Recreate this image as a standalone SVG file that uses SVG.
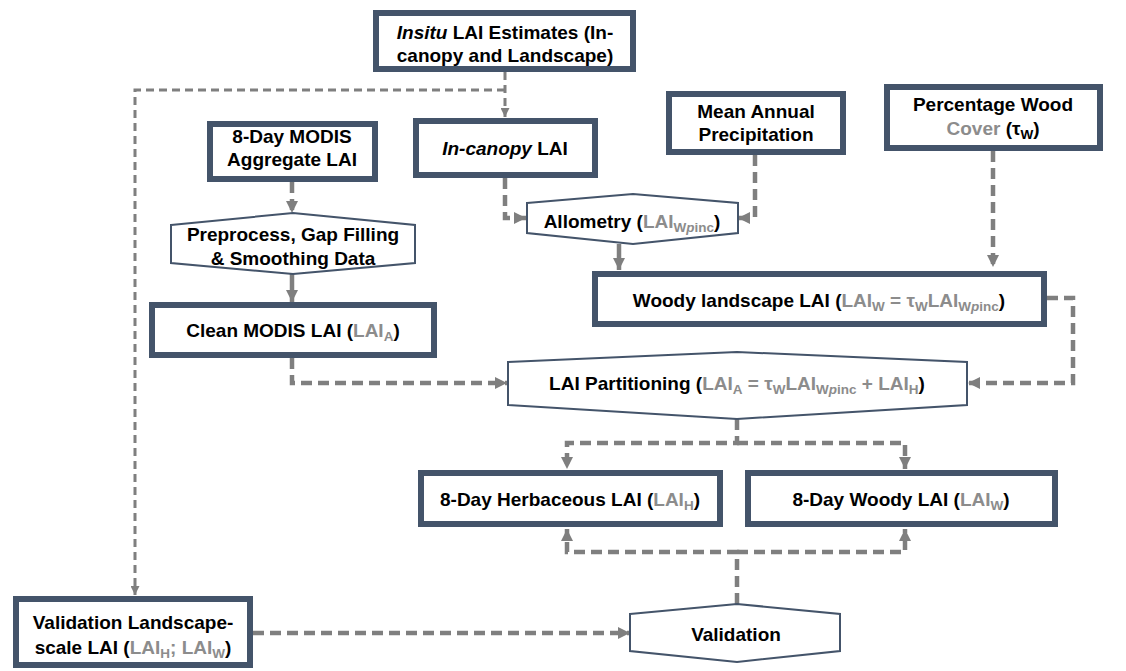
<svg xmlns="http://www.w3.org/2000/svg" width="1126" height="671" viewBox="0 0 1126 671">
<style>
.box{fill:#fff;stroke:#44546a;stroke-width:6}
.hex{fill:#fff;stroke:#44546a;stroke-width:2}
.t{font-family:"Liberation Sans",Arial,sans-serif;font-weight:bold;font-size:19px;fill:#000;text-anchor:middle}
.g{fill:#8c8c8c}
.i{font-style:italic}
.s{font-size:13.5px}
.c{fill:none;stroke:#7f7f7f;stroke-width:4.5}
.d{stroke-dasharray:11 6}
.thin{fill:none;stroke:#7f7f7f;stroke-width:3;stroke-dasharray:8 5}
</style>
<defs>
<marker id="a" viewBox="0 0 10 10" refX="10" refY="5" markerWidth="12" markerHeight="12" markerUnits="userSpaceOnUse" orient="auto"><path d="M0,0L10,5L0,10z" fill="#7f7f7f"/></marker>
<marker id="as" viewBox="0 0 10 10" refX="10" refY="5" markerWidth="9" markerHeight="9" markerUnits="userSpaceOnUse" orient="auto"><path d="M0,0L10,5L0,10z" fill="#7f7f7f"/></marker>
</defs>
<g id="connectors">
<path class="thin" d="M505,72V117" marker-end="url(#as)"/>
<path class="thin" d="M505,90H135V595" marker-end="url(#as)"/>
<path class="c d" d="M292,182V213" marker-end="url(#a)"/>
<path class="c" d="M292,274V302" marker-end="url(#a)"/>
<path class="c d" d="M292,358V383H507" marker-end="url(#a)"/>
<path class="c d" d="M505,178V218H526" marker-end="url(#a)"/>
<path class="c d" d="M755,155V218H738" marker-end="url(#a)"/>
<path class="c" d="M619,244V270" marker-end="url(#a)"/>
<path class="c d" d="M993,151V267" marker-end="url(#a)"/>
<path class="c d" d="M1047,298H1073V383H968" marker-end="url(#a)"/>
<path class="c d" d="M737,419V443H567V469" marker-end="url(#a)"/>
<path class="c d" d="M737,443H905V469" marker-end="url(#a)"/>
<path class="c d" d="M737,604V552H567V529" marker-end="url(#a)"/>
<path class="c d" d="M737,552H905V529" marker-end="url(#a)"/>
<path class="c d" d="M253,633H630" marker-end="url(#a)"/>
</g>
<g id="insitu">
<rect class="box" x="376" y="13" width="257" height="56"/>
<text class="t" x="505" y="39"><tspan class="i">Insitu</tspan> LAI Estimates (In-</text>
<text class="t" x="505" y="62">canopy and Landscape)</text>
</g>
<g id="modis">
<rect class="box" x="210" y="124" width="165" height="55"/>
<text class="t" x="292" y="143">8-Day MODIS</text>
<text class="t" x="292" y="166">Aggregate LAI</text>
</g>
<g id="incanopy">
<rect class="box" x="416" y="121" width="179" height="54"/>
<text class="t" x="505" y="155"><tspan class="i">In-canopy</tspan> LAI</text>
</g>
<g id="precip">
<rect class="box" x="669" y="94" width="174" height="58"/>
<text class="t" x="756" y="118">Mean Annual</text>
<text class="t" x="756" y="141">Precipitation</text>
</g>
<g id="woodcover">
<rect class="box" x="887" y="87" width="213" height="61"/>
<text class="t" x="993" y="111">Percentage Wood</text>
<text class="t" x="993" y="135"><tspan class="g">Cover </tspan>(τ<tspan class="s" dy="4">W</tspan><tspan dy="-4">)</tspan></text>
</g>
<g id="preprocess">
<polygon class="hex" points="171,225 293,213 415,225 415,263 293,274 171,263"/>
<text class="t" x="293" y="241">Preprocess, Gap Filling</text>
<text class="t" x="293" y="265">&amp; Smoothing Data</text>
</g>
<g id="allometry">
<polygon class="hex" points="527,203 633,194 738,203 738,233 633,244 527,233"/>
<text class="t" x="632" y="228">Allometry (<tspan class="g">LAI<tspan class="s" dy="4">W<tspan class="i">p</tspan>inc</tspan></tspan><tspan dy="-4">)</tspan></text>
</g>
<g id="clean">
<rect class="box" x="152" y="305" width="282" height="50"/>
<text class="t" x="293" y="337">Clean MODIS LAI (<tspan class="g">LAI<tspan class="s" dy="4">A</tspan></tspan><tspan dy="-4">)</tspan></text>
</g>
<g id="woodylandscape">
<rect class="box" x="595" y="274" width="449" height="50"/>
<text class="t" x="819" y="307">Woody landscape LAI (<tspan class="g">LAI<tspan class="s" dy="4">W</tspan><tspan dy="-4"> = τ</tspan><tspan class="s" dy="4">W</tspan><tspan dy="-4">LAI</tspan><tspan class="s" dy="4">W<tspan class="i">p</tspan>inc</tspan></tspan><tspan dy="-4">)</tspan></text>
</g>
<g id="partitioning">
<polygon class="hex" points="508,362 737,352 967,362 967,405 737,419 508,405"/>
<text class="t" x="737" y="390">LAI Partitioning (<tspan class="g">LAI<tspan class="s" dy="4">A</tspan><tspan dy="-4"> = τ</tspan><tspan class="s" dy="4">W</tspan><tspan dy="-4">LAI</tspan><tspan class="s" dy="4">W<tspan class="i">p</tspan>inc</tspan><tspan dy="-4"> + LAI</tspan><tspan class="s" dy="4">H</tspan></tspan><tspan dy="-4">)</tspan></text>
</g>
<g id="herbaceous">
<rect class="box" x="421" y="473" width="299" height="51"/>
<text class="t" x="570" y="506">8-Day Herbaceous LAI (<tspan class="g">LAI<tspan class="s" dy="4">H</tspan></tspan><tspan dy="-4">)</tspan></text>
</g>
<g id="woody8">
<rect class="box" x="748" y="473" width="307" height="51"/>
<text class="t" x="901" y="506">8-Day Woody LAI (<tspan class="g">LAI<tspan class="s" dy="4">W</tspan></tspan><tspan dy="-4">)</tspan></text>
</g>
<g id="validationlandscape">
<rect class="box" x="16" y="599" width="234" height="66"/>
<text class="t" x="133" y="629">Validation Landscape-</text>
<text class="t" x="133" y="654">scale LAI (<tspan class="g">LAI<tspan class="s" dy="4">H</tspan><tspan dy="-4">; LAI</tspan><tspan class="s" dy="4">W</tspan></tspan><tspan dy="-4">)</tspan></text>
</g>
<g id="validation">
<polygon class="hex" points="630,614 737,604 840,614 840,651 737,662 630,651"/>
<text class="t" x="736" y="641">Validation</text>
</g>
</svg>
